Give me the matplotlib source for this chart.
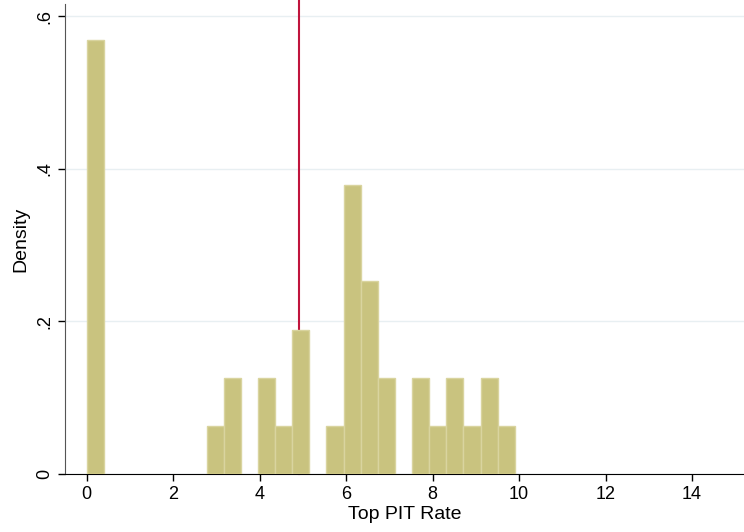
import numpy as np
import matplotlib
matplotlib.use("Agg")
import matplotlib.pyplot as plt

plt.rcParams['font.family'] = ['Liberation Sans', 'DejaVu Sans']

bin_width = 0.396
bin_counts = [9, 0, 0, 0, 0, 0, 0, 1, 2, 0, 2, 1, 3, 0, 1, 6, 4, 2, 0, 2, 1, 2, 1, 2, 1]
n_obs = 40
mean_line = 4.92

x_ticks = [0, 2, 4, 6, 8, 10, 12, 14]
y_ticks = [0, 0.2, 0.4, 0.6]
y_ticklabels = ["0", ".2", ".4", ".6"]

counts = np.array(bin_counts)
edges = np.arange(len(counts)) * bin_width
density = counts / (n_obs * bin_width)

fig = plt.figure(figsize=(7.44, 5.32), dpi=100)
ax = fig.add_axes([0.0874, 0.109, 0.9126, 0.8835])

keep = counts > 0
ax.bar(edges[keep], density[keep], width=bin_width, align='edge',
       color='#c9c37f', edgecolor='#d9d49f', linewidth=1.0, zorder=3)
# vertical reference line sits behind the bars and runs to the top edge
ax.axvline(mean_line, ymin=0, ymax=1.01, color='#c0143c', lw=1.5,
           zorder=2, clip_on=False)

ax.set_xlim(-0.5, 15.2)
ax.set_ylim(0, 0.616)
ax.set_xticks(x_ticks)
ax.set_yticks(y_ticks)
ax.set_yticklabels(y_ticklabels, rotation=90, va='center')
ax.grid(axis='y', color='#e8eff2', lw=1.0, zorder=0)
ax.set_axisbelow(True)

for s in ['top', 'right']:
    ax.spines[s].set_visible(False)
ax.spines['left'].set_color('#555555')
ax.spines['bottom'].set_color('#000000')
ax.tick_params(axis='both', direction='out', length=5, labelsize=13, width=1)
ax.set_xlabel("Top PIT Rate", fontsize=14, labelpad=2)
ax.set_ylabel("Density", fontsize=14, labelpad=5)

fig.savefig("out.png", dpi=100)
